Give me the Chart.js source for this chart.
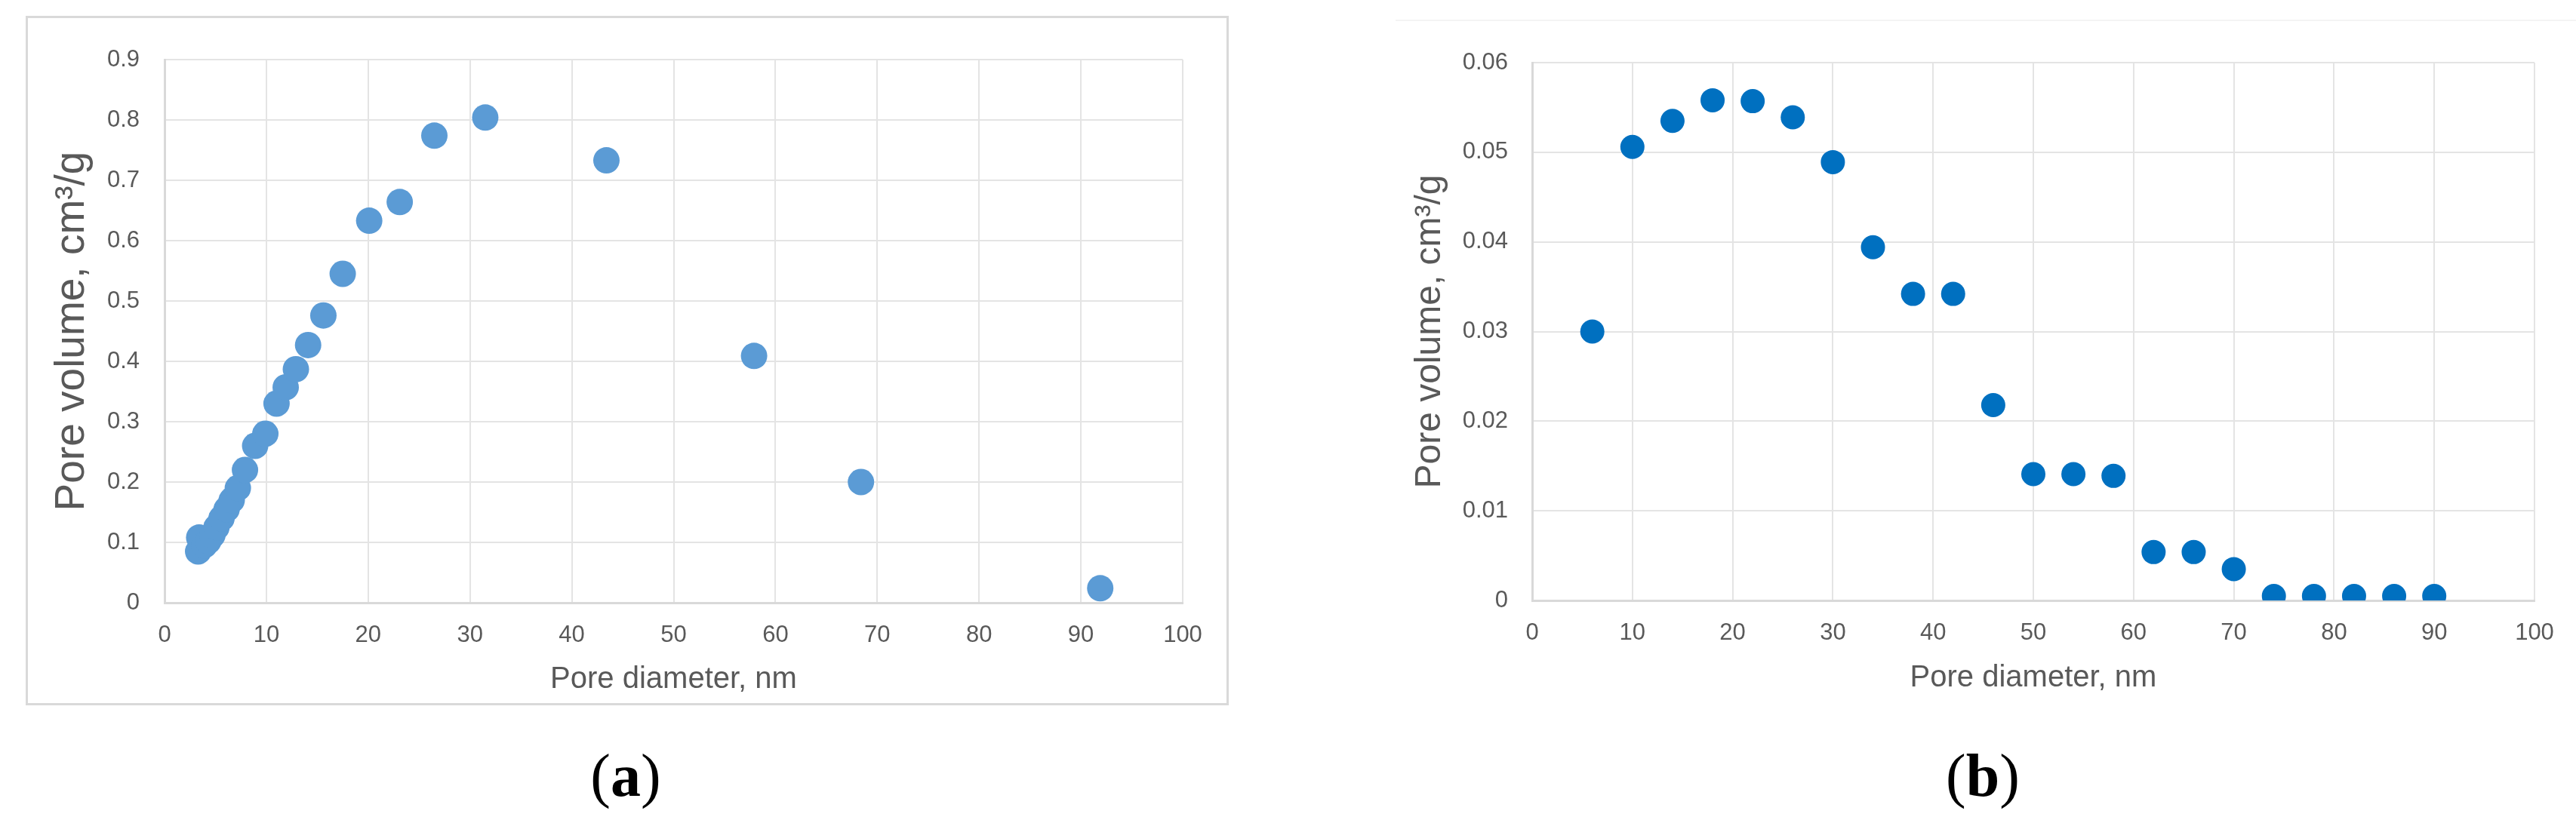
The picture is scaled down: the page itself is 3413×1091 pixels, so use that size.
<!DOCTYPE html>
<html>
<head>
<meta charset="utf-8">
<script src="https://cdn.jsdelivr.net/npm/chart.js@4.4.1/dist/chart.umd.min.js"></script>
<style>
  body { margin: 0; background: #fff; width: 3413px; height: 1091px; position: relative; overflow: hidden; }
  canvas { position: absolute; top: 0; }
  #scatterA { left: 0; }
  #scatterB { left: 1720px; }
  .frameA { position: absolute; left: 34px; top: 21px; width: 1588px; height: 908px; border: 3px solid #d9d9d9; }
  .frameB { position: absolute; left: 1849px; top: 26px; width: 1564px; height: 0; border-top: 2px solid #f4f4f4; }
  .caption { position: absolute; top: 988px; width: 300px; text-align: center; font-family: "Liberation Serif", serif; font-size: 80px; line-height: 80px; color: #000; }
</style>
</head>
<body>
<div class="frameA"></div>
<div class="frameB"></div>
<canvas id="scatterA" width="1706" height="960"></canvas>
<canvas id="scatterB" width="1693" height="960"></canvas>
<div class="caption" style="left:679px">(<b>a</b>)</div>
<div class="caption" style="left:2477px">(<b>b</b>)</div>

<script>
// (a) cumulative pore volume
var diamA = [3.3, 3.4, 3.9, 4.3, 4.7, 5.1, 5.6, 6.1, 6.6, 7.2, 7.9, 8.9, 9.9, 11.0, 11.9, 12.9, 14.1, 15.6, 17.5, 20.1, 23.1, 26.5, 31.5, 43.4, 57.9, 68.4, 91.9];
var volA  = [0.085, 0.108, 0.095, 0.102, 0.112, 0.125, 0.14, 0.155, 0.17, 0.19, 0.22, 0.26, 0.28, 0.33, 0.357, 0.387, 0.427, 0.476, 0.545, 0.633, 0.664, 0.774, 0.804, 0.733, 0.409, 0.2, 0.024];

// (b) pore size distribution
var diamB = [6, 10, 14, 18, 22, 26, 30, 34, 38, 42, 46, 50, 54, 58, 62, 66, 70, 74, 78, 82, 86, 90];
var volB  = [0.030, 0.0506, 0.0535, 0.0558, 0.0557, 0.0539, 0.0489, 0.0394, 0.0342, 0.0342, 0.0218, 0.0141, 0.0141, 0.0139, 0.0054, 0.0054, 0.0035, 0.0005, 0.0005, 0.0005, 0.0005, 0.0005];

var xTicks  = ['0', '10', '20', '30', '40', '50', '60', '70', '80', '90', '100'];
var yTicksA = ['0', '0.1', '0.2', '0.3', '0.4', '0.5', '0.6', '0.7', '0.8', '0.9'];
var yTicksB = ['0', '0.01', '0.02', '0.03', '0.04', '0.05', '0.06'];

var xTitle = 'Pore diameter, nm';
var yTitle = 'Pore volume, cm\u00b3/g';

var textColor = '#595959';
var gridColor = '#e4e4e4';
var axisColor = '#d9d9d9';

function points(xs, ys) {
  var out = [];
  for (var i = 0; i < xs.length; i++) {
    out.push({ x: xs[i], y: ys[i] });
  }
  return out;
}

function makeScatter(id, o) {
  return new Chart(document.getElementById(id), {
    type: 'scatter',
    data: {
      datasets: [{
        data: points(o.xs, o.ys),
        backgroundColor: o.color,
        borderWidth: 0,
        pointRadius: o.radius,
        pointHoverRadius: o.radius
      }]
    },
    options: {
      responsive: false,
      animation: false,
      events: [],
      layout: { padding: o.padding },
      plugins: { legend: { display: false }, tooltip: { enabled: false } },
      scales: {
        x: {
          type: 'linear', min: 0, max: 100,
          afterFit: function (s) { s.height = 150; },
          ticks: {
            stepSize: 10, padding: 25, color: textColor,
            font: { family: 'Liberation Sans', size: 31 },
            callback: function (v, i) { return xTicks[i]; }
          },
          grid: { color: gridColor, lineWidth: 2, drawTicks: false },
          border: { color: axisColor, width: 3 },
          title: {
            display: true, text: xTitle, color: textColor,
            font: { family: 'Liberation Sans', size: 40 },
            padding: { top: 0, bottom: o.xTitlePad }
          }
        },
        y: {
          type: 'linear', min: 0, max: o.ymax,
          afterFit: function (s) { s.width = o.yWidth; },
          ticks: {
            stepSize: o.ystep, padding: o.yTickPad, color: textColor,
            font: { family: 'Liberation Sans', size: 31 },
            callback: function (v, i) { return o.yTicks[i]; }
          },
          grid: { color: gridColor, lineWidth: 2, drawTicks: false },
          border: { color: axisColor, width: 3 },
          title: {
            display: true, text: yTitle, color: textColor,
            font: { family: 'Liberation Sans', size: o.yTitleSize },
            padding: { top: o.yTitlePad, bottom: 0 }
          }
        }
      }
    }
  });
}

var chartA = makeScatter('scatterA', {
  xs: diamA, ys: volA, color: '#5B9BD5', radius: 17.5,
  ymax: 0.9, ystep: 0.1, yTicks: yTicksA,
  padding: { left: 0, top: 79, right: 139, bottom: 11 },
  yWidth: 218, yTickPad: 33, yTitleSize: 55, yTitlePad: 63, xTitlePad: 24
});

var chartB = makeScatter('scatterB', {
  xs: diamB, ys: volB, color: '#0070C0', radius: 16,
  ymax: 0.06, ystep: 0.01, yTicks: yTicksB,
  padding: { left: 0, top: 83, right: 55, bottom: 14 },
  yWidth: 310, yTickPad: 32, yTitleSize: 48, yTitlePad: 146, xTitlePad: 23.5
});
</script>
</body>
</html>
